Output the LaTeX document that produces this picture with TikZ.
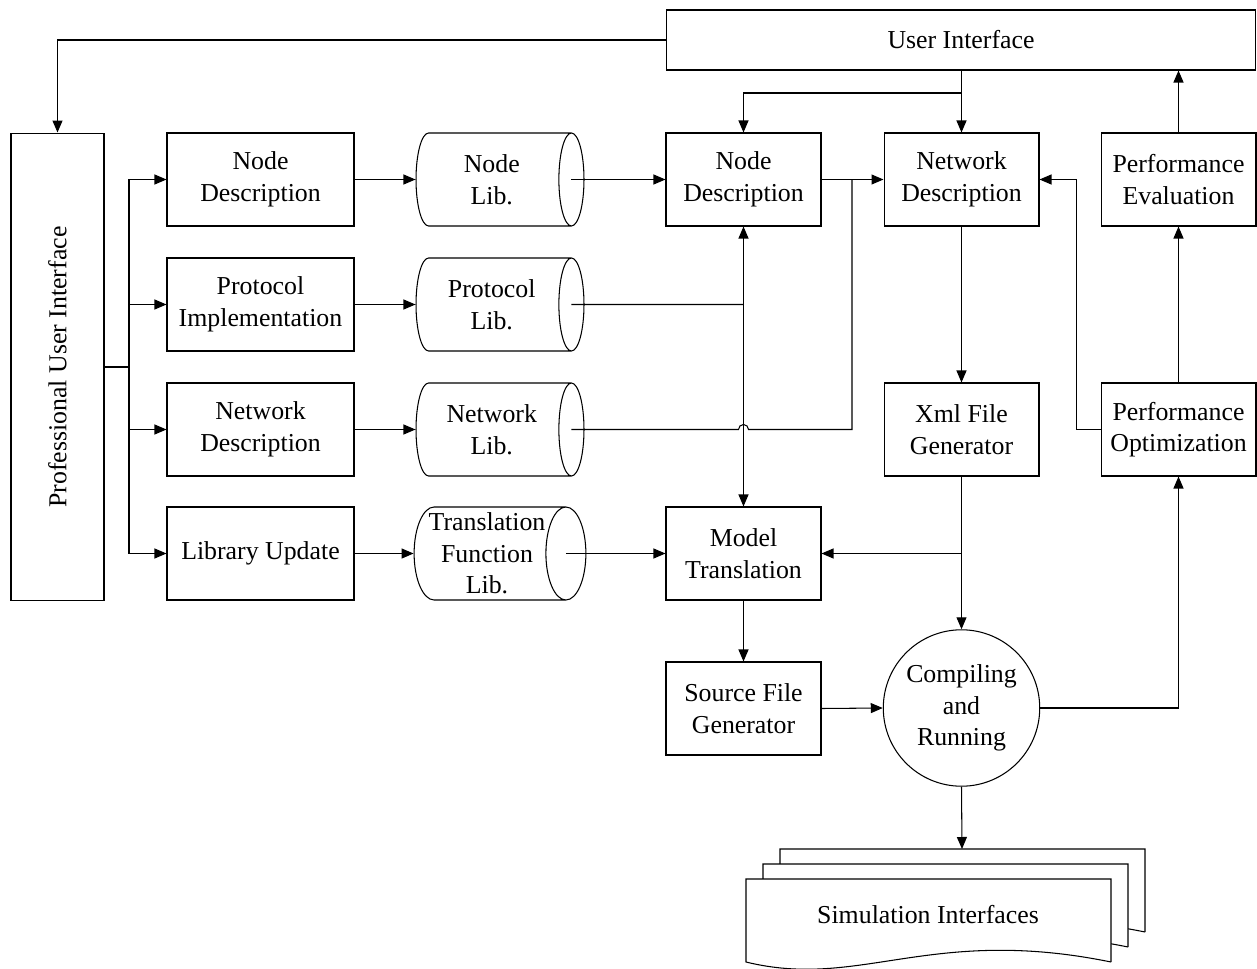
\documentclass[tikz,border=0pt]{standalone}
\usepackage{fontspec}
\setmainfont{Liberation Serif}
\usetikzlibrary{arrows.meta, positioning, calc, shapes.geometric}

\begin{document}
\begin{tikzpicture}[x=0.02cm, y=-0.02cm, line width=0.6pt,
    >={Triangle[length=0.24cm, width=0.2cm]},
    every node/.style={font=\fontsize{14.7}{18}\selectfont, align=center},
    widebox/.style={draw, minimum width=3.74cm, minimum height=1.86cm},
    midbox/.style={draw, minimum width=3.1cm, minimum height=1.86cm},
    libcyl/.style={draw, cylinder, shape aspect=0.47, inner xsep=0pt, inner ysep=1pt,
        minimum width=1.86cm, minimum height=3.36cm, anchor=shape center},
    sheet/.style={draw, fill=white}]
    \useasboundingbox (0,0) rectangle (1257,969);

    % User interfaces
    \node[draw, minimum width=11.8cm, minimum height=1.2cm] (ui) at (961,40) {User Interface};
    \node[draw, rotate=90, minimum width=9.36cm, minimum height=1.86cm] (pui) at (57.5,367) {Professional User Interface};

    % Left column: editing tools
    \node[widebox] (lnode) at (260.5,179.5) {Node\\Description};
    \node[widebox] (lproto) at (260.5,304.5) {Protocol\\Implementation};
    \node[widebox] (lnet) at (260.5,429.5) {Network\\Description};
    \node[widebox] (lupd) at (260.5,553.5) {Library Update};

    % Libraries
    \node[libcyl] (nlib) at (500,179.5) {Node\\Lib.};
    \node[libcyl] (plib) at (500,304.5) {Protocol\\Lib.};
    \node[libcyl] (wlib) at (500,429.5) {Network\\Lib.};
    \node[libcyl] (tlib) at (500,553.5) {Translation\\Function\\Lib.};

    % Model side
    \node[midbox] (ndm) at (743.5,179.5) {Node\\Description};
    \node[midbox] (nwd) at (961.5,179.5) {Network\\Description};
    \node[midbox] (xml) at (961.5,429.5) {Xml File\\Generator};
    \node[midbox] (mt) at (743.5,553.5) {Model\\Translation};
    \node[midbox] (sfg) at (743.5,708.5) {Source File\\Generator};
    \node[draw, circle, minimum size=3.12cm] (cr) at (961.5,708) {Compiling\\and\\Running};

    % Performance
    \node[midbox] (pe) at (1178.5,179.5) {Performance\\Evaluation};
    \node[midbox] (po) at (1178.5,429.5) {Performance\\Optimization};

    % Simulation interfaces (stacked sheets)
    \foreach \dx/\dy in {34/-30, 17/-15, 0/0} {
        \draw[sheet, shift={(\dx,\dy)}] (1111,962) -- (1111,879) -- (746,879) -- (746,962)
            .. controls (860,990) and (930,925) .. (1111,962);
    }
    \node (sim) at (928,915) {Simulation Interfaces};
    \coordinate (simtop) at (962,849);

    % Connectors from the user interfaces
    \draw[->] (ui.west) -| (pui.east);
    \draw[->] (ui.south -| nwd) -- (nwd.north);
    \coordinate (uibr) at (961.5,93);
    \draw[->] (uibr) -| (ndm.north);
    \coordinate (bus) at (129,367);
    \foreach \n in {lnode, lproto, lnet, lupd}
        \draw[->] (pui.south) -- (bus) |- (\n.west);

    % Tools to libraries
    \draw[->] (lnode.east) -- (nlib.west);
    \draw[->] (lproto.east) -- (plib.west);
    \draw[->] (lnet.east) -- (wlib.west);
    \draw[->] (lupd.east) -- (tlib.west);

    % Libraries to models
    \draw[->] ($(nlib.before top)!0.5!(nlib.after top)$) -- (ndm.west);
    \draw ($(plib.before top)!0.5!(plib.after top)$) -- (ndm.south |- plib.shape center);
    \coordinate (tap) at (852,179.5);
    \coordinate (jmp) at (ndm.south |- wlib.shape center);
    \draw ($(wlib.before top)!0.5!(wlib.after top)$) -- ([xshift=-0.1cm]jmp)
        arc[start angle=180, end angle=0, radius=0.1cm] -- (tap |- jmp) -- (tap);
    \draw[->] ($(tlib.before top)!0.5!(tlib.after top)$) -- (mt.west);
    \draw[->] (ndm.east) -- (nwd.west);
    \draw[<->] (ndm.south) -- (mt.north);

    % Generation and running
    \draw[->] (nwd.south) -- (xml.north);
    \draw[->] (xml.south) -- (cr.north);
    \draw[->] (xml.south |- mt) -- (mt.east);
    \draw[->] (mt.south) -- (sfg.north);
    \draw[->] (sfg.east) -- (cr.west);
    \draw[->] (cr.south) -- (simtop);

    % Performance loop
    \draw[->] (cr.east) -| (po.south);
    \draw[->] (po.north) -- (pe.south);
    \draw[->] (pe.north) -- (pe.north |- ui.south);
    \draw[->] (po.west) -- ++(-24,0) |- (nwd.east);

\end{tikzpicture}
\end{document}
